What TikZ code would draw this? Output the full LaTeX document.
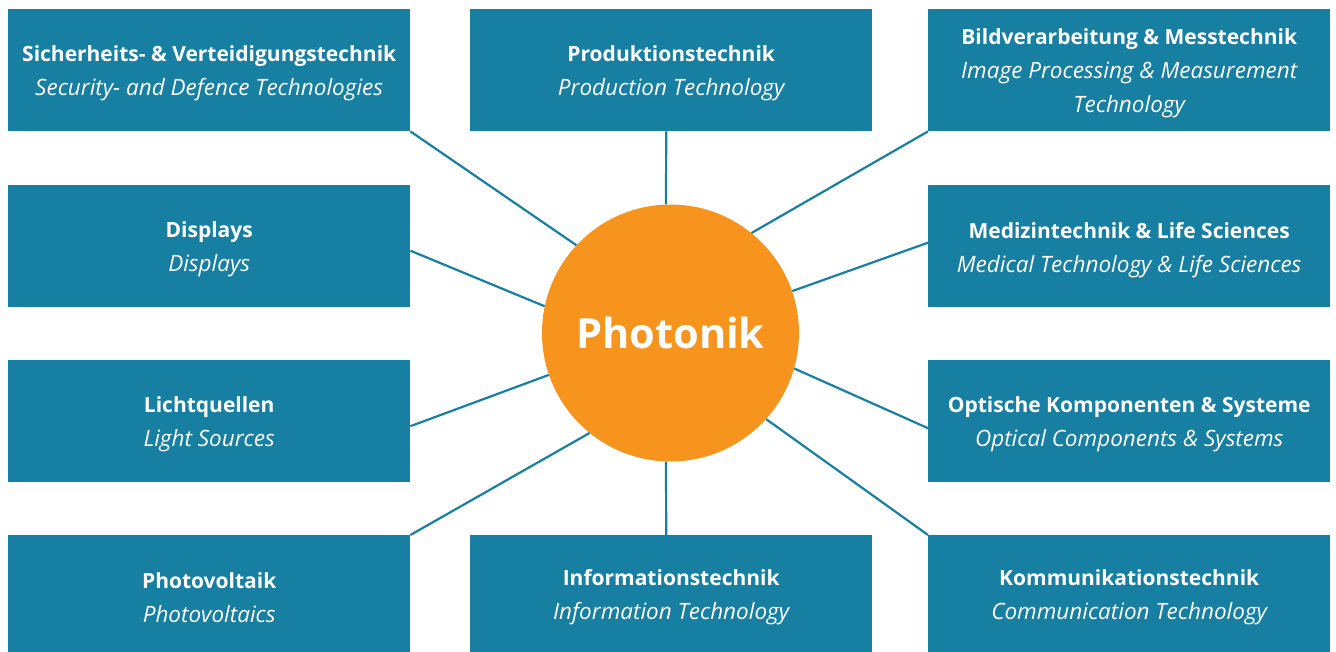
\documentclass[tikz,border=0pt]{standalone}
\usepackage{fontspec}
\setmainfont{Open Sans}
\definecolor{boxblue}{HTML}{177FA2}
\definecolor{photorange}{HTML}{F7941E}
\newcommand{\de}[1]{{\fontsize{21}{34}\selectfont\bfseries #1}}
\newcommand{\en}[1]{{\fontsize{22.5}{34}\selectfont\itshape #1}}
\begin{document}
\begin{tikzpicture}[x=1pt,y=-1pt,
  box/.style={fill=boxblue, minimum width=402pt, minimum height=122pt,
    inner sep=0pt, anchor=north west},
  boxtext/.style={text=white, inner sep=0pt, align=center, font=\fontsize{21}{34}\selectfont},
  conn/.style={draw=boxblue, line width=2.2pt},
  hub/.style={circle, fill=photorange, text=white, minimum size=257pt, inner sep=0pt,
    font=\fontsize{41.5}{42}\selectfont\bfseries}]
\useasboundingbox (0,0) rectangle (1336,652);
% boxes
\node[box] (sich) at (8,9) {};
\node[box] (disp) at (8,185) {};
\node[box] (licht) at (8,360) {};
\node[box] (pv) at (8,535) {};
\node[box] (prod) at (470,9) {};
\node[box] (info) at (470,535) {};
\node[box] (bild) at (928,9) {};
\node[box] (med) at (928,185) {};
\node[box] (opt) at (928,360) {};
\node[box] (komm) at (928,535) {};
% texts
\node[boxtext] (sich-t) at ([yshift=-3.5pt]sich.center) {\de{Sicherheits- \& Verteidigungstechnik}\\\en{Security- and Defence Technologies}};
\node[boxtext] (disp-t) at ([yshift=-3.5pt]disp.center) {\de{Displays}\\\en{Displays}};
\node[boxtext] (licht-t) at ([yshift=-3.5pt]licht.center) {\de{Lichtquellen}\\\en{Light Sources}};
\node[boxtext] (pv-t) at ([yshift=-1pt]pv.center) {\de{Photovoltaik}\\\en{Photovoltaics}};
\node[boxtext] (prod-t) at ([yshift=-3.5pt]prod.center) {\de{Produktionstechnik}\\\en{Production Technology}};
\node[boxtext] (info-t) at ([yshift=-1pt]info.center) {\de{Informationstechnik}\\\en{Information Technology}};
\node[boxtext] (bild-t) at ([yshift=-3.5pt]bild.center) {\de{Bildverarbeitung \& Messtechnik}\\\en{Image Processing \& Measurement}\\\en{Technology}};
\node[boxtext] (med-t) at ([yshift=-3.5pt]med.center) {\de{Medizintechnik \& Life Sciences}\\\en{Medical Technology \& Life Sciences}};
\node[boxtext] (opt-t) at ([yshift=-3.5pt]opt.center) {\de{Optische Komponenten \& Systeme}\\\en{Optical Components \& Systems}};
\node[boxtext] (komm-t) at ([yshift=-1pt]komm.center) {\de{Kommunikationstechnik}\\\en{Communication Technology}};
% hub
\node[hub] (ph) at (670.5,333) {Photonik};
% connectors
\draw[conn] (sich.south east) -- (ph.137.8);
\draw[conn] ([yshift=-4.5pt]disp.east) -- (ph.168.7);
\draw[conn] ([yshift=-5pt]licht.east) -- (ph.199.3);
\draw[conn] (pv.north east) -- (ph.231);
\draw[conn] ([xshift=-5pt]prod.south) -- (ph.92);
\draw[conn] ([xshift=-5pt]info.north) -- (ph.268);
\draw[conn] (bild.south west) -- (ph.51);
\draw[conn] ([yshift=3.5pt]med.west) -- (ph.19);
\draw[conn] ([yshift=-7pt]opt.west) -- (ph.-16.7);
\draw[conn] (komm.north west) -- (ph.-42.5);
\end{tikzpicture}
\end{document}
